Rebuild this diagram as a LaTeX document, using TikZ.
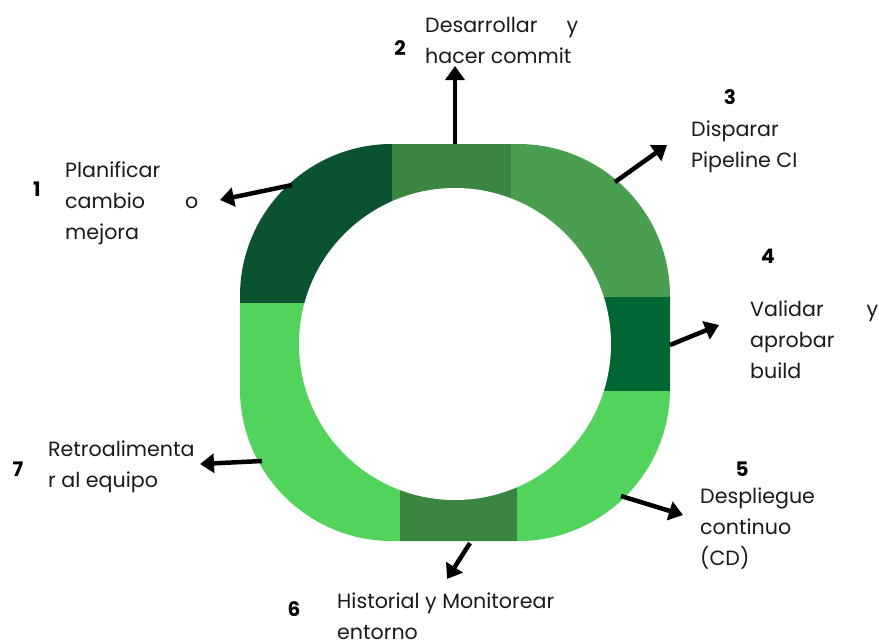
\documentclass[tikz,border=0pt]{standalone}
\usepackage{fontspec}
\setmainfont{Poppins}
\usetikzlibrary{arrows.meta}

\definecolor{segdark}{HTML}{0A5230}
\definecolor{segmid}{HTML}{3A8540}
\definecolor{segsoft}{HTML}{4A9E50}
\definecolor{segdeep}{HTML}{006633}
\definecolor{seglight}{HTML}{52D35C}
\definecolor{txt}{HTML}{1A1A1A}

% labels are anchored at the baseline of their last line
\tikzset{
  label/.style={anchor=base west, inner sep=0pt, align=left, text=txt,
    font=\fontsize{20.6}{31}\selectfont},
  num/.style={anchor=base, inner sep=0pt, text=black,
    font=\fontsize{20}{22}\selectfont\bfseries},
  pointer/.style={line width=4.5pt, draw=black,
    -{Triangle[length=14pt,width=19pt]}},
}

\begin{document}
\begin{tikzpicture}[x=1pt,y=-1pt]
\useasboundingbox (0,0) rectangle (879,641);

% ring: seven coloured sectors of a rounded square with a round hole
\begin{scope}
  \clip[rounded corners=152pt] (240,144) rectangle (670,541);
  \fill[segdark]  (230,130) rectangle (392,303);
  \fill[segmid]   (392,130) rectangle (511,343);
  \fill[segsoft]  (511,130) rectangle (680,297);
  \fill[segdeep]  (455,297) rectangle (680,391);
  \fill[seglight] (517,391) rectangle (680,550);
  \fill[segmid]   (400,343) rectangle (517,550);
  \fill[seglight] (230,303) rectangle (400,550);
\end{scope}
\fill[white] (455,344) circle[radius=156pt];

% arrow anchors on the ring and their free ends
\coordinate (s1) at (292,185); \coordinate (e1) at (220,200);
\coordinate (s2) at (455,144); \coordinate (e2) at (455,66);
\coordinate (s3) at (615,182); \coordinate (e3) at (667,145);
\coordinate (s4) at (670,345); \coordinate (e4) at (719,325);
\coordinate (s5) at (621,496); \coordinate (e5) at (683,515);
\coordinate (s6) at (470,543); \coordinate (e6) at (447,579);
\coordinate (s7) at (262,461); \coordinate (e7) at (200,464);

\draw[pointer] (s1) -- (e1);
\draw[pointer] (s2) -- (e2);
\draw[pointer] (s3) -- (e3);
\draw[pointer] (s4) -- (e4);
\draw[pointer] (s5) -- (e5);
\draw[pointer] (s6) -- (e6);
\draw[pointer] (s7) -- (e7);

% step numbers
\node[num] (n1) at (37,196) {1};
\node[num] (n2) at (400,55) {2};
\node[num] (n3) at (730,104) {3};
\node[num] (n4) at (768,263) {4};
\node[num] (n5) at (742,476) {5};
\node[num] (n6) at (294,616) {6};
\node[num] (n7) at (18,476) {7};

% step descriptions
\node[label] (t1) at (65,239) {Planificar\\\hbox to 133pt{cambio\hfill o}\\mejora};
\node[label] (t2) at (425,63) {\hbox to 153pt{Desarrollar\hfill y}\\hacer commit};
\node[label] (t3) at (691,167) {Disparar\\Pipeline CI};
\node[label] (t4) at (750,378) {\hbox to 128pt{Validar\hfill y}\\aprobar\\build};
\node[label] (t5) at (700,565) {Despliegue\\continuo\\(CD)};
\node[label] (t6) at (337,639) {Historial y Monitorear\\entorno};
\node[label] (t7) at (48,487) {Retroalimenta\\r al equipo};
\end{tikzpicture}
\end{document}
